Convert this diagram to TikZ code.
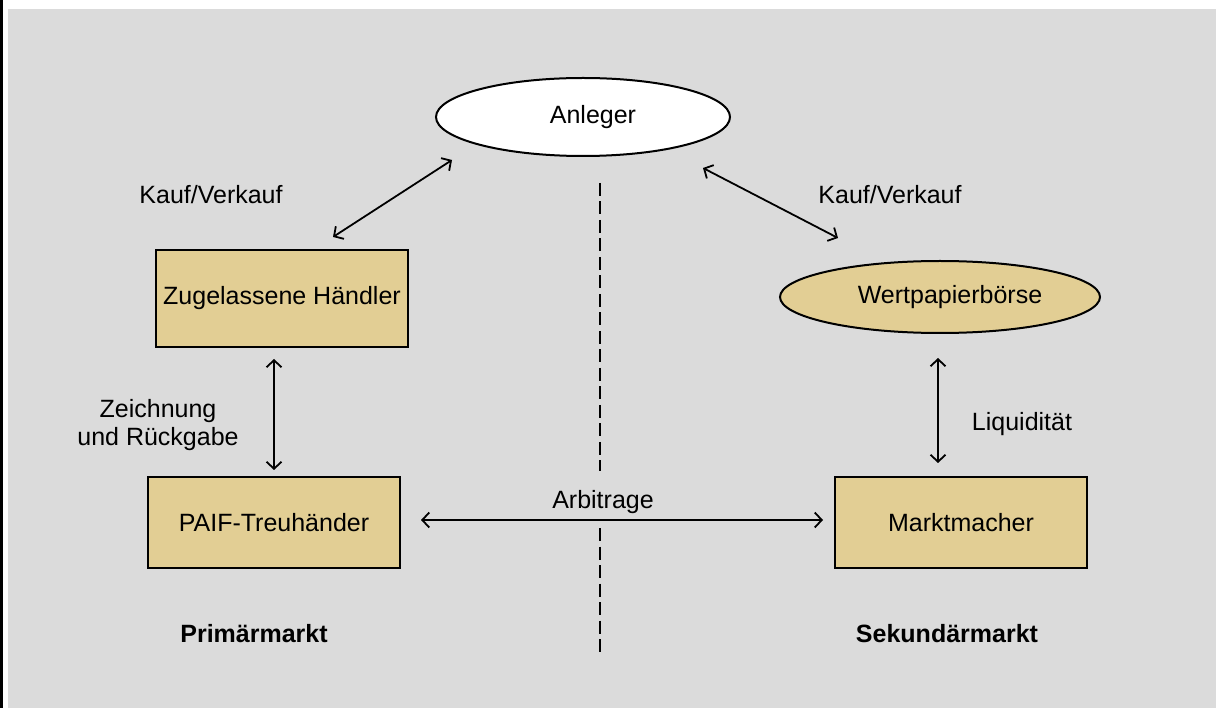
\documentclass[tikz,border=0pt]{standalone}
\usepackage{fontspec}
\setmainfont{Liberation Sans}
\usetikzlibrary{shapes.geometric,arrows.meta}
\definecolor{bggray}{HTML}{DBDBDB}
\definecolor{tan}{HTML}{E2CE94}
\begin{document}
\begin{tikzpicture}[x=1pt,y=-1pt,
  lbl/.style={font=\fontsize{25}{28}\selectfont, inner sep=0pt, align=center},
  boldlbl/.style={font=\fontsize{25}{29}\selectfont\bfseries, inner sep=0pt},
  tanbox/.style={draw=black, line width=1.8pt, fill=tan, minimum width=252pt, minimum height=97pt, inner sep=0pt, font=\fontsize{25}{29}\selectfont},
  oval/.style={ellipse, draw=black, line width=2pt, inner sep=0pt, font=\fontsize{25}{29}\selectfont},
  conn/.style={line width=1.8pt, {Straight Barb[length=7pt,width=15pt]}-{Straight Barb[length=7pt,width=15pt]}},
  divider/.style={line width=2.8pt, dash pattern=on 13pt off 5.5pt}
]
\useasboundingbox (0,0) rectangle (1216,708);
\fill[white] (0,0) rectangle (1216,708);
\fill[black] (0,0) rectangle (2.5,708);
\fill[bggray] (8,9) rectangle (1216,708);

% nodes
\node[oval, fill=white, minimum width=294pt, minimum height=78pt] (anleger) at (583,117) {\hspace*{20pt}Anleger};
\node[oval, fill=tan, minimum width=320pt, minimum height=72pt] (boerse) at (940,297) {\hspace*{20pt}Wertpapierbörse};
\node[tanbox] (zug) at (282,298.5) {Zugelassene Händler};
\node[tanbox, minimum height=91pt] (paif) at (274,522.5) {PAIF-Treuhänder};
\node[tanbox, minimum height=91pt] (markt) at (961,522.5) {Marktmacher};

% labels
\node[lbl] (kv1) at (211,195) {Kauf/Verkauf};
\node[lbl] (kv2) at (890,195) {Kauf/Verkauf};
\node[lbl] (zr) at (158,425) {Zeichnung\\und Rückgabe};
\node[lbl] (liq) at (1022,424) {Liquidität};
\node[lbl] (arb) at (603,502) {Arbitrage};
\node[boldlbl] (prim) at (254,634) {Primärmarkt};
\node[boldlbl] (sek) at (947,634) {Sekundärmarkt};

% divider
\coordinate (d1) at (600,183);
\coordinate (d2) at (600,471);
\coordinate (d3) at (600,528);
\coordinate (d4) at (600,657);
\draw[divider] (d1) -- (d2);
\draw[divider] (d3) -- (d4);

% connectors
\coordinate (a1) at (333,237);
\coordinate (a2) at (452,160);
\coordinate (b1) at (703,168);
\coordinate (b2) at (838,238);
\coordinate (c1) at (274,359);
\coordinate (c2) at (274,470);
\coordinate (e1) at (938,358);
\coordinate (e2) at (938,463);
\coordinate (f1) at (421,520);
\coordinate (f2) at (823,520);
\draw[conn] (a1) -- (a2);
\draw[conn] (b1) -- (b2);
\draw[conn] (c1) -- (c2);
\draw[conn] (e1) -- (e2);
\draw[conn] (f1) -- (f2);
\end{tikzpicture}
\end{document}
